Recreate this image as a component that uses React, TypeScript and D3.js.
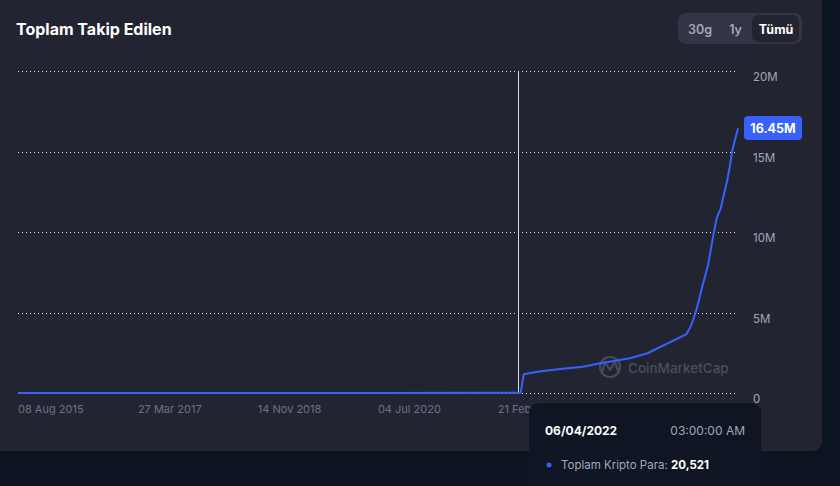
import * as d3 from "d3";

const dates = [
  "2015-08-08", "2017-03-27", "2018-11-14", "2020-07-04", "2022-02-21",
  "2022-06-04", "2022-06-15", "2022-06-30", "2022-09-08", "2022-12-17",
  "2023-04-20", "2023-07-04", "2023-12-10", "2024-03-08", "2024-04-27",
  "2024-09-18", "2024-10-12", "2024-11-06", "2024-12-01", "2025-01-03",
  "2025-01-28", "2025-02-15", "2025-03-07", "2025-04-08", "2025-04-21",
  "2025-05-04", "2025-06-01",
];
const values = [
  600, 1800, 2100, 6000, 17000,
  20521, 20600, 1160000, 1320000, 1470000,
  1630000, 1820000, 2160000, 2470000, 2780000,
  3660000, 4220000, 5160000, 6400000, 7950000,
  9710000, 10870000, 11470000, 13200000, 14060000,
  15100000, 16450000,
];
const xTickDates = ["2015-08-08", "2017-03-27", "2018-11-14", "2020-07-04", "2022-02-21"];
const yTicks = [0, 5000000, 10000000, 15000000, 20000000];
const ranges = ["30g", "1y", "Tümü"];

const W = 840;
const H = 486;
const FONT = "Inter, 'Noto Sans', sans-serif";
const BLUE = "#3861fb";

const App = () => {
  const parse = d3.utcParse("%Y-%m-%d");
  const data = dates.map((d, i) => ({ date: parse(d)!, value: values[i] }));
  const x = d3
    .scaleUtc()
    .domain([parse("2015-08-08")!, parse("2025-06-01")!])
    .range([18, 738]);
  const y = d3.scaleLinear().domain([0, 20000000]).range([393, 71]);
  const line = d3
    .line<{ date: Date; value: number }>()
    .x((d) => x(d.date))
    .y((d) => y(d.value));
  const fmtTick = d3.utcFormat("%d %b %Y");
  const fmtY = (v: number) => (v === 0 ? "0" : `${v / 1000000}M`);
  const last = data[data.length - 1];
  const hover = data[5];
  const hx = Math.round(x(hover.date)) + 0.5;

  return (
    <svg
      width={W}
      height={H}
      viewBox={`0 0 ${W} ${H}`}
      style={{ position: "absolute", left: 0, top: 0, fontFamily: FONT }}
    >
      <rect width={W} height={H} fill="#0d1421" />
      <rect x={-10} y={-10} width={832} height={461} rx={9} fill="#222531" />

      <text x={16} y={35} fill="#ffffff" fontSize={16} fontWeight={700}>
        Toplam Takip Edilen
      </text>

      {/* range buttons */}
      <rect x={678} y={13} width={124} height={31} rx={8} fill="#323546" />
      <rect x={752} y={15} width={47} height={27} rx={6} fill="#222531" />
      {ranges.map((r, i) => (
        <text
          key={r}
          x={[700, 735.5, 776][i]}
          y={29}
          dominantBaseline="central"
          textAnchor="middle"
          fontSize={12.5}
          fontWeight={i === 2 ? 700 : 600}
          fill={i === 2 ? "#ffffff" : "#a1a7bb"}
        >
          {r}
        </text>
      ))}

      {/* grid */}
      {yTicks.map((t) => (
        <g key={t}>
          <line
            x1={18}
            x2={735}
            y1={Math.round(y(t)) + 0.5}
            y2={Math.round(y(t)) + 0.5}
            stroke="#e6e8ee"
            strokeDasharray="1 3"
          />
          <text
            x={753}
            y={y(t) + 6}
            dominantBaseline="central"
            fontSize={11.5}
            fill="#a1a7bb"
          >
            {fmtY(t)}
          </text>
        </g>
      ))}

      {xTickDates.map((d) => (
        <text
          key={d}
          x={x(parse(d)!)}
          y={409}
          dominantBaseline="central"
          fontSize={11}
          fill="#6b7287"
        >
          {fmtTick(parse(d)!)}
        </text>
      ))}

      {/* watermark */}
      <g opacity={0.35} stroke="#8a8fa3" fill="none">
        <circle cx={610} cy={367} r={10} strokeWidth={2.2} />
        <path
          d="M602,373 L605,362 L610,370 L615,362 L618,371"
          strokeWidth={2.2}
          strokeLinejoin="round"
          strokeLinecap="round"
        />
      </g>
      <text
        x={628}
        y={368}
        dominantBaseline="central"
        fontSize={13.5}
        fontWeight={500}
        fill="#8a8fa3"
        opacity={0.38}
      >
        CoinMarketCap
      </text>

      <line x1={hx} x2={hx} y1={71} y2={393} stroke="#d8dbe3" strokeWidth={1} />

      <path d={line(data) ?? undefined} fill="none" stroke={BLUE} strokeWidth={2} strokeLinejoin="round" />

      {/* last value badge */}
      <rect x={744} y={116} width={58} height={24} rx={4} fill={BLUE} />
      <text
        x={773}
        y={128.5}
        textAnchor="middle"
        dominantBaseline="central"
        fontSize={12.5}
        fontWeight={700}
        fill="#ffffff"
      >
        {`${(last.value / 1000000).toFixed(2)}M`}
      </text>

      {/* tooltip */}
      <rect x={529} y={403} width={232} height={100} rx={9} fill="#0f1522" />
      <text x={545} y={430} dominantBaseline="central" fontSize={12} fontWeight={700} fill="#ffffff">
        {d3.utcFormat("%m/%d/%Y")(hover.date)}
      </text>
      <text
        x={745}
        y={430}
        textAnchor="end"
        dominantBaseline="central"
        fontSize={12}
        fill="#a1a7bb"
      >
        03:00:00 AM
      </text>
      <circle cx={549} cy={465} r={2.5} fill={BLUE} />
      <text x={561} y={465} dominantBaseline="central" fontSize={11.5} fill="#a1a7bb">
        Toplam Kripto Para:{" "}
        <tspan fill="#ffffff" fontWeight={700}>
          {d3.format(",")(hover.value)}
        </tspan>
      </text>
    </svg>
  );
};

export default App;
